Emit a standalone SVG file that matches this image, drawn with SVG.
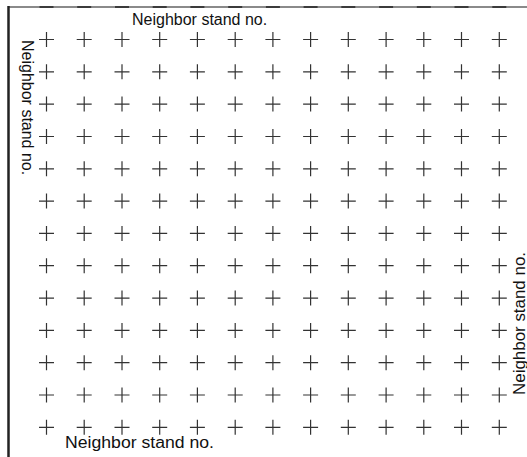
<svg xmlns="http://www.w3.org/2000/svg" xmlns:xlink="http://www.w3.org/1999/xlink" width="527" height="457" viewBox="0 0 527 457">
  <style>
    .cross { stroke: #333; stroke-width: 1.2; fill: none; }
    .lbl { font-family: "Liberation Sans", Arial, sans-serif; font-size: 16px; fill: #111; }
    .frame { stroke: #222; stroke-width: 2.5; fill: none; }
    .topline { stroke: #8a8a8a; stroke-width: 1.8; fill: none; }
    .tick { stroke: #333; stroke-width: 1.8; fill: none; }
  </style>
  <defs>
    <path id="cross" class="cross" d="M-7.5,0H7.5M0,-7.5V7.5"/>
    <path id="tk" class="tick" d="M-7,0H7"/>
    <g id="row">
      <use xlink:href="#cross" href="#cross" x="46.5"/>
      <use xlink:href="#cross" href="#cross" x="84.2"/>
      <use xlink:href="#cross" href="#cross" x="122"/>
      <use xlink:href="#cross" href="#cross" x="159.7"/>
      <use xlink:href="#cross" href="#cross" x="197.4"/>
      <use xlink:href="#cross" href="#cross" x="235.2"/>
      <use xlink:href="#cross" href="#cross" x="272.9"/>
      <use xlink:href="#cross" href="#cross" x="310.6"/>
      <use xlink:href="#cross" href="#cross" x="348.3"/>
      <use xlink:href="#cross" href="#cross" x="386.1"/>
      <use xlink:href="#cross" href="#cross" x="423.8"/>
      <use xlink:href="#cross" href="#cross" x="461.5"/>
      <use xlink:href="#cross" href="#cross" x="499.3"/>
    </g>
  </defs>
  <rect width="527" height="457" fill="#fff"/>
  <g id="frame">
    <path class="topline" d="M8,7H527"/>
    <g id="ticks">
      <use href="#tk" x="46.5" y="7"/>
      <use href="#tk" x="84.2" y="7"/>
      <use href="#tk" x="122" y="7"/>
      <use href="#tk" x="159.7" y="7"/>
      <use href="#tk" x="197.4" y="7"/>
      <use href="#tk" x="235.2" y="7"/>
      <use href="#tk" x="272.9" y="7"/>
      <use href="#tk" x="310.6" y="7"/>
      <use href="#tk" x="348.3" y="7"/>
      <use href="#tk" x="386.1" y="7"/>
      <use href="#tk" x="423.8" y="7"/>
      <use href="#tk" x="461.5" y="7"/>
      <use href="#tk" x="499.3" y="7"/>
    </g>
    <path class="frame" d="M8.5,6V457"/>
  </g>
  <g id="grid">
    <use href="#row" y="39.5"/>
    <use href="#row" y="71.8"/>
    <use href="#row" y="104.1"/>
    <use href="#row" y="136.5"/>
    <use href="#row" y="168.8"/>
    <use href="#row" y="201.1"/>
    <use href="#row" y="233.4"/>
    <use href="#row" y="265.7"/>
    <use href="#row" y="298.1"/>
    <use href="#row" y="330.4"/>
    <use href="#row" y="362.7"/>
    <use href="#row" y="395"/>
    <use href="#row" y="427.3"/>
  </g>
  <g id="labels">
    <text class="lbl" x="132" y="25">Neighbor stand no.</text>
    <text class="lbl" transform="translate(21.5,40) rotate(90)">Neighbor stand no.</text>
    <text class="lbl" x="65" y="448" textLength="149" lengthAdjust="spacingAndGlyphs">Neighbor stand no.</text>
    <text class="lbl" transform="translate(525,395) rotate(-90)" textLength="143" lengthAdjust="spacingAndGlyphs">Neighbor stand no.</text>
  </g>
</svg>
